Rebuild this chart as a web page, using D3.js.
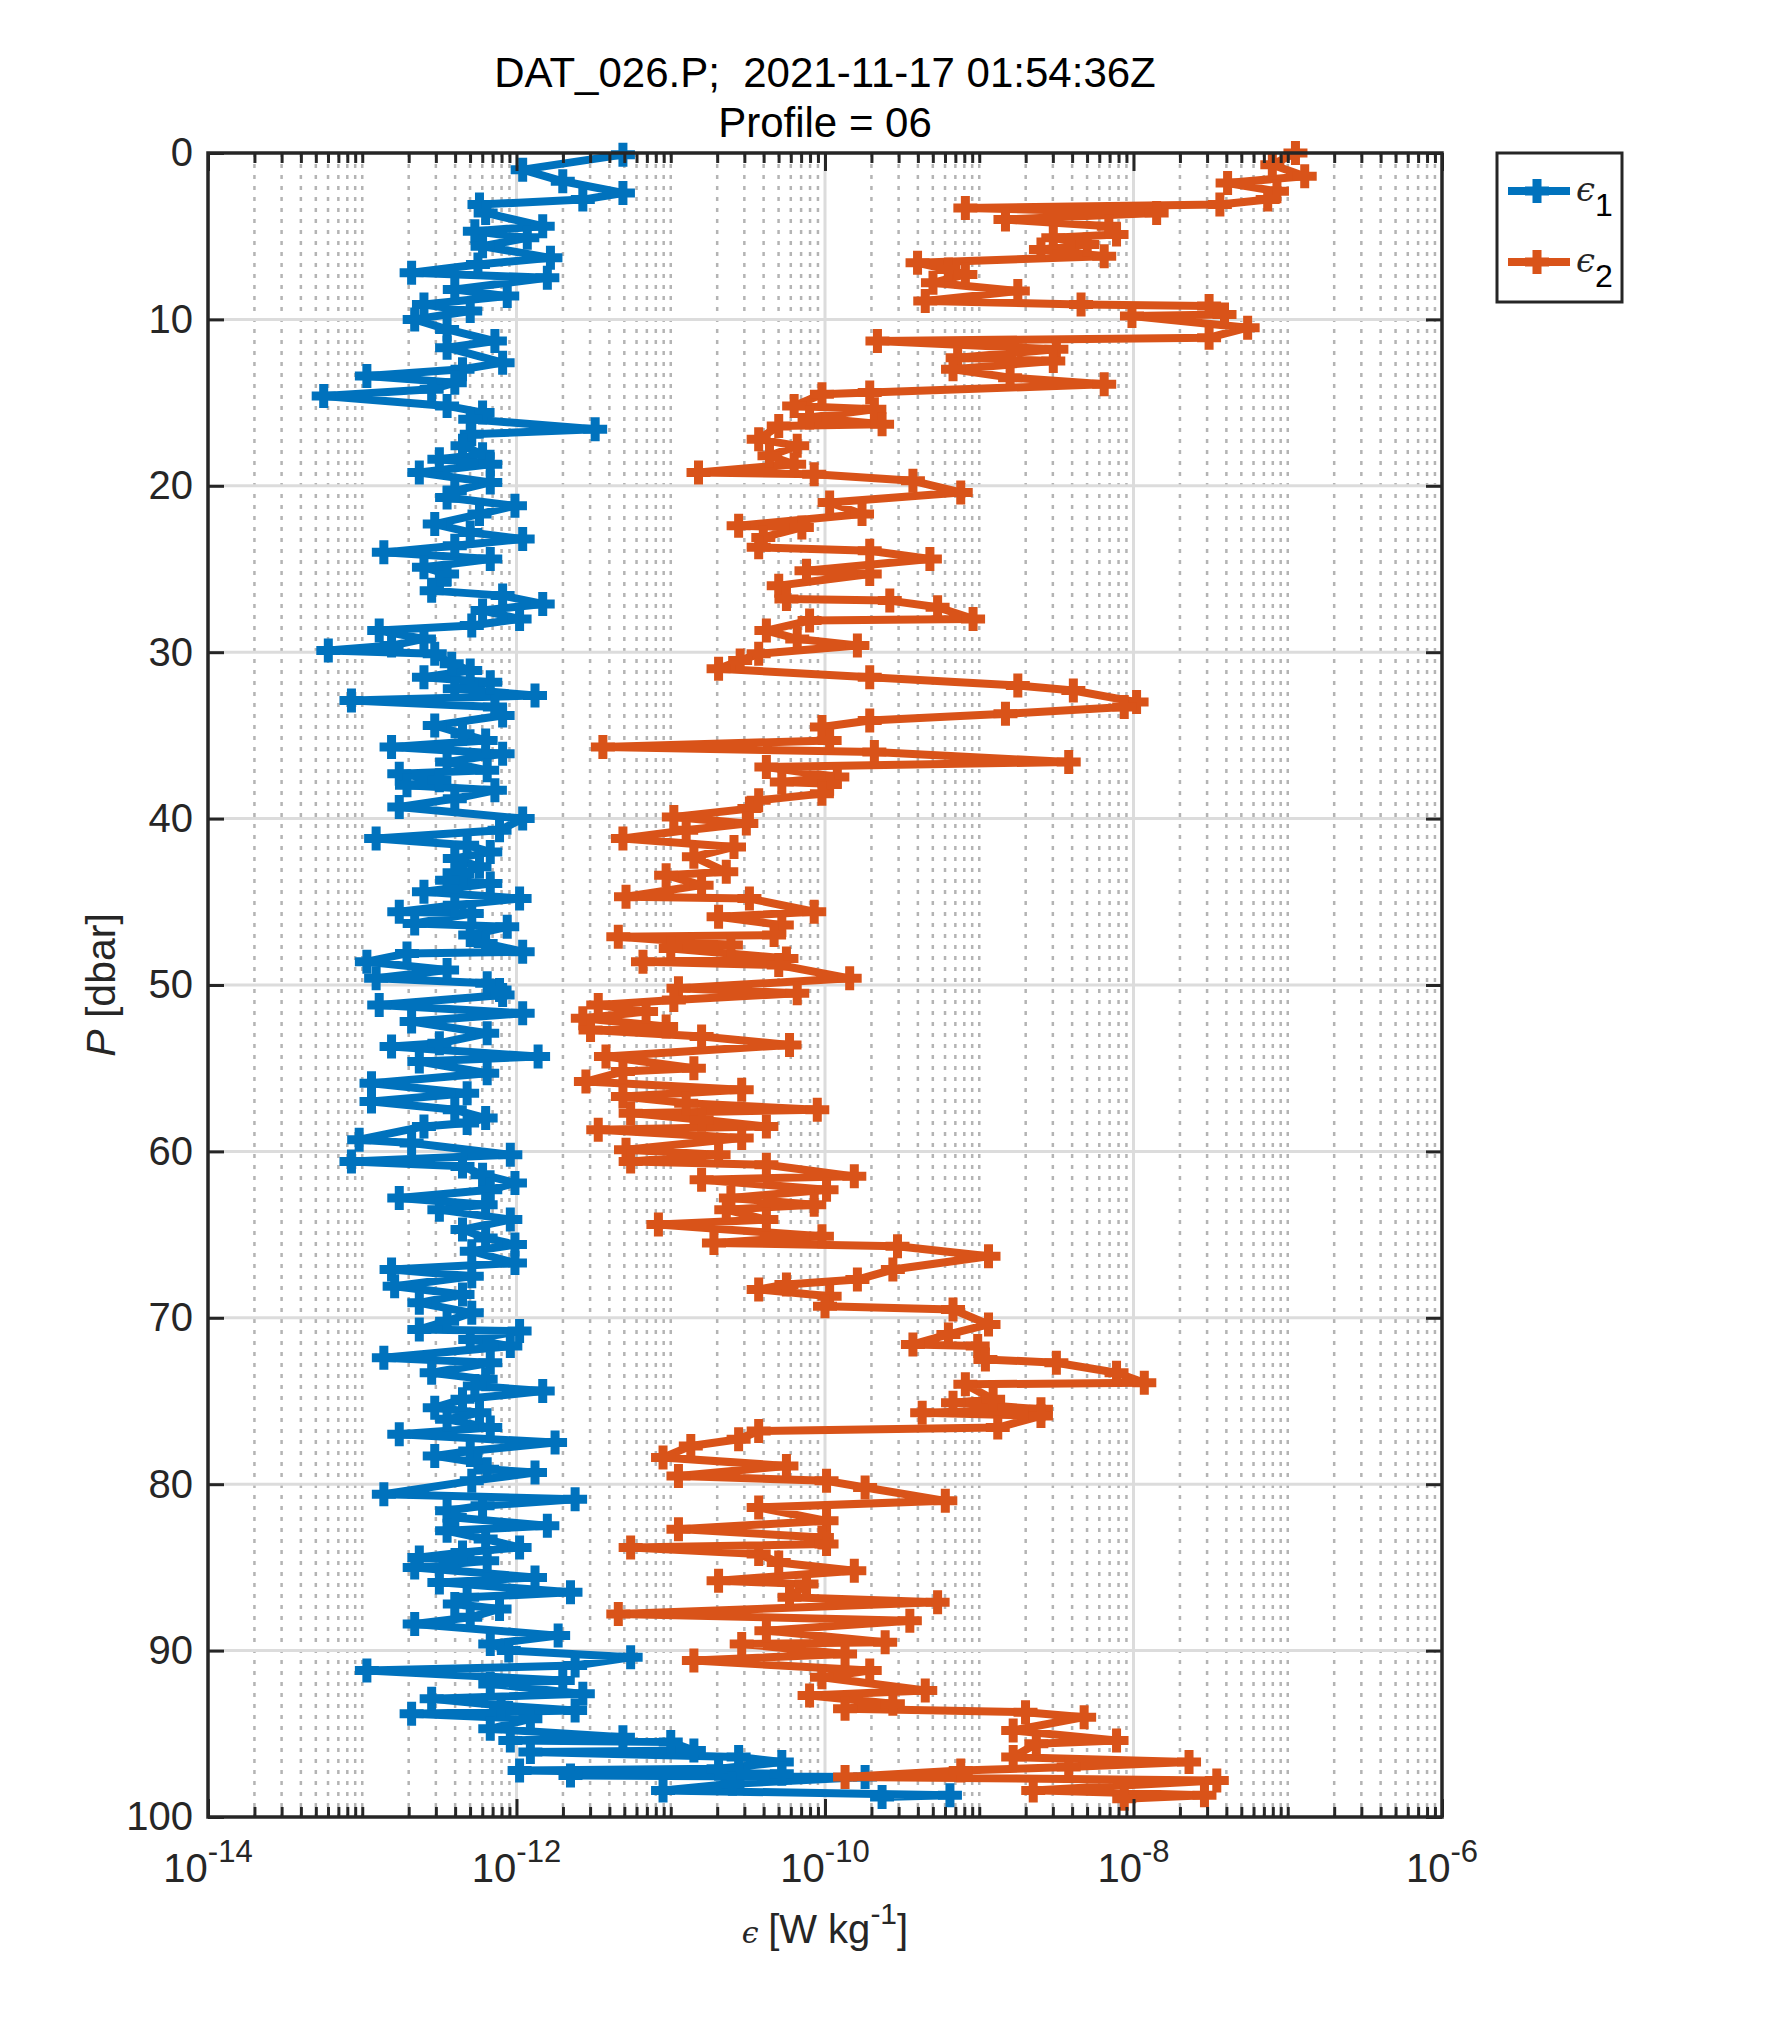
<!DOCTYPE html>
<html>
<head>
<meta charset="utf-8">
<script src="https://cdn.jsdelivr.net/npm/d3@7"></script>
<style>
  body { margin: 0; background: #fff; }
  text { font-family: "Liberation Sans", Arial, Helvetica, sans-serif; fill: #262626; }
</style>
</head>
<body>
<div id="chart"></div>
<script>
// Profile readings: [pressure (dbar), log10 of epsilon (W/kg)]
var eps1 = [
  [0.1,-11.31],[1.0,-11.96],[1.7,-11.70],[2.4,-11.31],[2.8,-11.57],[3.1,-12.24],[3.6,-12.20],[4.4,-11.83],
  [4.7,-12.27],[5.1,-11.93],[5.6,-12.22],[6.3,-11.78],[6.7,-12.25],[7.2,-12.68],[7.5,-11.80],[8.2,-12.40],
  [8.6,-12.06],[9.1,-12.60],[9.5,-12.30],[10.0,-12.66],[10.6,-12.45],[11.3,-12.14],[11.7,-12.45],[12.6,-12.09],
  [13.0,-12.35],[13.4,-12.97],[13.8,-12.40],[14.2,-12.55],[14.6,-13.25],[15.2,-12.45],[15.6,-12.22],[16.0,-12.30],
  [16.6,-11.49],[16.9,-12.29],[17.6,-12.35],[18.1,-12.22],[18.4,-12.50],[18.7,-12.17],[19.2,-12.63],[19.8,-12.17],
  [20.3,-12.40],[20.7,-12.45],[21.2,-12.01],[21.7,-12.24],[22.3,-12.53],[22.8,-12.30],[23.2,-11.96],[23.6,-12.40],
  [24.0,-12.86],[24.4,-12.17],[24.9,-12.60],[25.3,-12.45],[25.8,-12.50],[26.3,-12.55],[26.6,-12.09],[27.1,-11.83],
  [27.5,-12.22],[28.0,-11.98],[28.4,-12.29],[28.7,-12.89],[29.2,-12.60],[29.6,-12.81],[29.9,-13.22],[30.1,-12.53],
  [30.7,-12.42],[31.1,-12.30],[31.5,-12.60],[31.8,-12.17],[32.2,-12.40],[32.6,-11.88],[32.9,-13.07],[33.3,-12.14],
  [33.8,-12.09],[34.4,-12.53],[34.9,-12.35],[35.3,-12.20],[35.7,-12.81],[36.1,-12.09],[36.6,-12.45],[37.1,-12.19],
  [37.3,-12.76],[37.7,-12.50],[38.0,-12.71],[38.3,-12.14],[38.8,-12.40],[39.3,-12.76],[40.0,-11.96],[40.7,-12.11],
  [41.2,-12.91],[41.6,-12.32],[42.0,-12.17],[42.4,-12.40],[42.9,-12.24],[43.3,-12.35],[43.7,-12.45],[43.9,-12.17],
  [44.4,-12.60],[44.8,-11.98],[45.2,-12.40],[45.6,-12.76],[45.7,-12.29],[46.3,-12.66],[46.5,-12.06],[47.0,-12.30],
  [47.5,-12.20],[48.0,-11.96],[48.1,-12.71],[48.6,-12.97],[49.1,-12.45],[49.6,-12.91],[49.9,-12.19],[50.3,-12.11],
  [50.6,-12.09],[51.2,-12.89],[51.7,-11.96],[52.2,-12.68],[52.9,-12.19],[53.5,-12.50],[53.7,-12.81],[54.3,-11.86],
  [54.6,-12.63],[55.3,-12.19],[55.9,-12.94],[56.5,-12.32],[57.0,-12.94],[57.5,-12.40],[58.0,-12.20],[58.3,-12.32],
  [58.5,-12.60],[59.3,-13.02],[59.5,-12.68],[60.2,-12.04],[60.6,-13.07],[60.9,-12.35],[61.4,-12.22],[61.9,-12.01],
  [62.3,-12.17],[62.8,-12.76],[63.2,-12.20],[63.5,-12.50],[64.1,-12.04],[64.7,-12.35],[65.2,-12.20],[65.6,-12.01],
  [66.0,-12.29],[66.7,-12.01],[67.1,-12.81],[67.5,-12.29],[68.1,-12.79],[68.6,-12.35],[69.1,-12.63],[69.7,-12.29],
  [70.2,-12.45],[70.7,-12.63],[70.8,-11.98],[71.3,-12.30],[71.7,-12.04],[72.4,-12.86],[72.7,-12.17],[73.3,-12.55],
  [73.7,-12.20],[74.1,-12.27],[74.4,-11.83],[74.9,-12.35],[75.4,-12.53],[75.7,-12.24],[76.1,-12.45],[76.6,-12.17],
  [77.0,-12.76],[77.5,-11.75],[78.0,-12.30],[78.3,-12.53],[78.7,-12.25],[79.1,-12.19],[79.3,-11.88],[79.8,-12.29],
  [80.6,-12.86],[80.9,-11.62],[81.3,-12.22],[81.6,-12.45],[82.0,-12.40],[82.5,-11.80],[82.8,-12.45],[83.3,-12.20],
  [83.8,-11.98],[84.1,-12.35],[84.4,-12.63],[84.6,-12.19],[85.0,-12.66],[85.6,-11.88],[85.9,-12.50],[86.5,-11.65],
  [86.8,-12.32],[87.2,-12.40],[87.5,-12.11],[88.0,-12.30],[88.4,-12.66],[89.1,-11.73],[89.6,-12.17],[90.0,-12.05],
  [90.4,-11.26],[90.9,-11.62],[91.2,-12.97],[91.8,-11.70],[92.0,-12.17],[92.6,-11.57],[92.9,-12.55],[93.3,-12.10],
  [93.6,-11.62],[93.8,-12.68],[94.1,-11.91],[94.7,-12.17],[95.2,-11.31],[95.4,-12.04],[95.5,-11.00],[96.0,-10.85],
  [96.1,-11.91],[96.4,-10.56],[96.7,-10.28],[97.1,-10.69],[97.2,-11.98],[97.4,-10.28],[97.5,-11.65],[97.6,-9.74],
  [98.0,-10.60],[98.4,-11.05],[98.7,-9.19],[98.8,-9.63]
];

var eps2 = [
  [0.0,-6.95],[0.7,-7.10],[1.4,-6.89],[1.8,-7.39],[2.3,-7.07],[2.8,-7.13],[3.1,-7.44],[3.3,-9.09],
  [3.6,-7.85],[4.0,-8.83],[4.4,-8.16],[4.9,-8.11],[5.1,-8.52],[5.5,-8.30],[5.8,-8.60],[6.2,-8.19],
  [6.6,-9.40],[7.0,-9.20],[7.3,-9.09],[7.8,-9.30],[8.3,-8.75],[8.9,-9.35],[9.1,-8.34],[9.2,-7.51],
  [9.7,-7.41],[9.8,-8.01],[10.5,-7.26],[11.1,-7.51],[11.3,-9.66],[11.8,-8.50],[12.3,-9.14],[12.5,-8.52],
  [13.0,-9.17],[13.5,-8.80],[13.9,-8.19],[14.4,-9.71],[14.5,-10.02],[15.2,-10.20],[15.4,-9.68],[15.9,-10.10],
  [16.3,-9.63],[16.4,-10.30],[17.2,-10.43],[17.6,-10.18],[18.2,-10.36],[18.7,-10.20],[19.2,-10.82],[19.3,-10.07],
  [19.7,-9.43],[20.4,-9.12],[21.0,-9.97],[21.7,-9.76],[22.4,-10.56],[22.5,-10.15],[23.1,-10.40],[23.7,-10.43],
  [23.9,-9.71],[24.4,-9.32],[25.1,-10.12],[25.3,-9.71],[26.0,-10.30],[26.8,-10.25],[26.9,-9.58],[27.3,-9.27],
  [28.0,-9.04],[28.1,-10.10],[28.7,-10.38],[29.2,-10.18],[29.6,-9.79],[30.1,-10.43],[30.5,-10.55],[31.0,-10.69],
  [31.5,-9.71],[32.0,-8.75],[32.3,-8.39],[33.0,-7.98],[33.3,-8.06],[33.7,-8.83],[34.1,-9.71],[34.5,-10.02],
  [35.3,-9.97],[35.7,-11.44],[36.0,-9.68],[36.6,-8.42],[36.9,-10.38],[37.5,-9.92],[37.8,-10.28],[37.9,-9.97],
  [38.5,-10.02],[38.9,-10.43],[39.4,-10.49],[39.9,-10.98],[40.3,-10.51],[40.7,-10.90],[41.2,-11.31],[41.7,-10.59],
  [42.3,-10.85],[43.2,-10.64],[43.4,-11.03],[44.0,-10.80],[44.7,-11.29],[44.8,-10.49],[45.6,-10.07],[45.9,-10.69],
  [46.4,-10.28],[47.0,-10.33],[47.1,-11.34],[47.6,-10.61],[47.8,-11.00],[48.4,-10.25],[48.6,-11.18],[48.8,-10.30],
  [49.6,-9.84],[50.2,-10.95],[50.5,-10.18],[50.9,-10.98],[51.2,-11.47],[51.6,-11.16],[52.0,-11.57],[52.5,-11.03],
  [52.7,-11.52],[53.1,-10.80],[53.6,-10.23],[54.3,-11.42],[55.0,-10.85],[55.2,-11.31],[55.8,-11.55],[56.3,-10.54],
  [56.7,-11.31],[57.1,-10.90],[57.5,-10.05],[57.7,-11.26],[58.1,-10.80],[58.5,-10.38],[58.7,-11.47],[59.2,-10.54],
  [59.9,-11.29],[60.2,-10.69],[60.6,-11.26],[60.8,-10.38],[61.5,-9.81],[61.7,-10.80],[62.3,-9.99],[62.8,-10.61],
  [63.2,-10.07],[63.5,-10.64],[64.1,-10.38],[64.4,-11.08],[65.1,-10.02],[65.5,-10.72],[65.7,-9.53],[66.3,-8.94],
  [67.1,-9.56],[67.7,-9.79],[68.0,-10.25],[68.3,-10.43],[68.7,-9.97],[69.3,-10.00],[69.5,-9.17],[70.4,-8.94],
  [71.0,-9.20],[71.6,-9.43],[71.7,-9.01],[72.5,-8.96],[72.7,-8.50],[73.3,-8.11],[73.9,-7.93],[74.0,-9.09],
  [74.9,-8.91],[75.1,-9.17],[75.5,-8.60],[75.7,-9.37],[75.9,-8.60],[76.6,-8.88],[76.8,-10.43],[77.3,-10.56],
  [77.7,-10.87],[78.4,-11.05],[78.9,-10.25],[79.5,-10.95],[79.8,-9.99],[80.2,-9.74],[81.0,-9.22],[81.4,-10.43],
  [82.2,-9.99],[82.7,-10.95],[83.2,-10.02],[83.6,-9.99],[83.8,-11.26],[84.2,-10.43],[84.7,-10.30],[85.2,-9.81],
  [85.8,-10.69],[86.0,-10.12],[86.8,-10.23],[87.1,-9.27],[87.8,-11.34],[88.2,-9.45],[88.8,-10.38],[89.5,-9.61],
  [89.6,-10.54],[90.2,-9.87],[90.6,-10.85],[91.2,-9.71],[91.6,-10.02],[92.4,-9.35],[92.7,-10.10],[93.2,-9.56],
  [93.5,-9.87],[93.7,-8.70],[94.0,-8.32],[94.8,-8.78],[95.4,-8.11],[95.6,-8.63],[96.4,-8.78],[96.7,-7.64],
  [97.0,-8.42],[97.2,-9.12],[97.6,-9.87],[97.8,-7.46],[98.4,-8.65],[98.7,-7.54],[98.9,-8.06]
];

var seriesNames = ["1", "2"];
var seriesColors = ["#0072BD", "#D95319"];
var xTickExps = [-14, -12, -10, -8, -6];
var yTicks = [0, 10, 20, 30, 40, 50, 60, 70, 80, 90, 100];
var titleLines = ["DAT_026.P;  2021-11-17 01:54:36Z", "Profile = 06"];

// svg wrapper dimensions
var svgWidth = 1772;
var svgHeight = 2042;

var margin = { top: 153, right: 330, bottom: 225, left: 208 };
var width = svgWidth - margin.left - margin.right;
var height = svgHeight - margin.top - margin.bottom;

var svg = d3.select("#chart")
  .append("svg")
  .attr("width", svgWidth)
  .attr("height", svgHeight);

var chartGroup = svg.append("g")
  .attr("transform", `translate(${margin.left}, ${margin.top})`);

var xScale = d3.scaleLog()
  .domain([1e-14, 1e-6])
  .range([0, width]);

var yScale = d3.scaleLinear()
  .domain([0, 100])
  .range([0, height]);

// minor positions: 2..9 in every decade plus the odd decades
var minorVals = [];
for (var e = -14; e < -6; e++) {
  for (var m = 1; m <= 9; m++) {
    if (m === 1 && e % 2 === 0) continue;
    minorVals.push(m * Math.pow(10, e));
  }
}
var majorVals = xTickExps.map(e => Math.pow(10, e));

// grid
chartGroup.append("g").selectAll("line")
  .data(minorVals)
  .enter()
  .append("line")
  .attr("x1", d => xScale(d)).attr("x2", d => xScale(d))
  .attr("y1", 0).attr("y2", height)
  .attr("stroke", "#b4b4b4")
  .attr("stroke-width", 2.5)
  .attr("stroke-dasharray", "4,7");

chartGroup.append("g").selectAll("line")
  .data(majorVals.slice(1, -1))
  .enter()
  .append("line")
  .attr("x1", d => xScale(d)).attr("x2", d => xScale(d))
  .attr("y1", 0).attr("y2", height)
  .attr("stroke", "#dcdcdc")
  .attr("stroke-width", 3);

chartGroup.append("g").selectAll("line")
  .data(yTicks.slice(1, -1))
  .enter()
  .append("line")
  .attr("x1", 0).attr("x2", width)
  .attr("y1", d => yScale(d)).attr("y2", d => yScale(d))
  .attr("stroke", "#dcdcdc")
  .attr("stroke-width", 3);

// data lines and markers
var lineGen = d3.line()
  .x(d => xScale(Math.pow(10, d[1])))
  .y(d => yScale(d[0]));

var plusPath = "M-12,0H12M0,-12V12";

[eps1, eps2].forEach(function(data, i) {
  chartGroup.append("path")
    .datum(data)
    .attr("d", lineGen)
    .attr("fill", "none")
    .attr("stroke", seriesColors[i])
    .attr("stroke-width", 8)
    .attr("stroke-linejoin", "round");

  chartGroup.append("g").selectAll("path")
    .data(data)
    .enter()
    .append("path")
    .attr("transform", d => `translate(${xScale(Math.pow(10, d[1]))}, ${yScale(d[0])})`)
    .attr("d", plusPath)
    .attr("stroke", seriesColors[i])
    .attr("stroke-width", 9)
    .attr("fill", "none");
});

// axes (ticks inside, box on)
function styleAxis(g) {
  g.select(".domain").remove();
  g.selectAll(".tick line").attr("stroke", "#262626").attr("stroke-width", 3);
}

chartGroup.append("g")
  .attr("transform", `translate(0, ${height})`)
  .call(d3.axisBottom(xScale).tickValues(minorVals).tickSize(-10).tickFormat(""))
  .call(styleAxis);
chartGroup.append("g")
  .attr("transform", `translate(0, ${height})`)
  .call(d3.axisBottom(xScale).tickValues(majorVals).tickSize(-18).tickFormat(""))
  .call(styleAxis);
chartGroup.append("g")
  .call(d3.axisTop(xScale).tickValues(minorVals).tickSize(-10).tickFormat(""))
  .call(styleAxis);
chartGroup.append("g")
  .call(d3.axisTop(xScale).tickValues(majorVals).tickSize(-18).tickFormat(""))
  .call(styleAxis);

var leftAxis = chartGroup.append("g")
  .call(d3.axisLeft(yScale).tickValues(yTicks).tickSize(-16).tickPadding(15))
  .call(styleAxis);
leftAxis.selectAll("text")
  .attr("font-size", 40)
  .attr("fill", "#262626")
  .attr("font-family", "Liberation Sans, Arial, sans-serif");

chartGroup.append("g")
  .attr("transform", `translate(${width}, 0)`)
  .call(d3.axisRight(yScale).tickValues(yTicks).tickSize(-16).tickFormat(""))
  .call(styleAxis);

chartGroup.append("rect")
  .attr("x", 0).attr("y", 0)
  .attr("width", width).attr("height", height)
  .attr("fill", "none")
  .attr("stroke", "#262626")
  .attr("stroke-width", 3.5);

// x tick labels with exponent
var xLabels = chartGroup.append("g").selectAll("text")
  .data(xTickExps)
  .enter()
  .append("text")
  .attr("x", d => xScale(Math.pow(10, d)))
  .attr("y", height + 65)
  .attr("text-anchor", "middle")
  .attr("font-size", 40);
xLabels.append("tspan").text("10");
xLabels.append("tspan")
  .attr("dy", -20)
  .attr("font-size", 31)
  .text(d => d);

// axis labels
var xTitle = chartGroup.append("text")
  .attr("x", width / 2)
  .attr("y", height + 126)
  .attr("text-anchor", "middle")
  .attr("font-size", 40);
xTitle.append("tspan").attr("font-family", "DejaVu Serif, serif").attr("font-style", "italic").attr("font-size", 30).text("ϵ ");
xTitle.append("tspan").text("[W kg");
xTitle.append("tspan").attr("dy", -19).attr("font-size", 30).text("-1");
xTitle.append("tspan").attr("dy", 19).text("]");

var yTitle = chartGroup.append("text")
  .attr("transform", "rotate(-90)")
  .attr("x", -height / 2)
  .attr("y", -93)
  .attr("text-anchor", "middle")
  .attr("font-size", 41);
yTitle.append("tspan").attr("font-style", "italic").text("P");
yTitle.append("tspan").text(" [dbar]");

// title
svg.append("g").selectAll("text")
  .data(titleLines)
  .enter()
  .append("text")
  .attr("x", margin.left + width / 2)
  .attr("y", (d, i) => 87 + i * 50)
  .attr("text-anchor", "middle")
  .attr("font-size", 42)
  .style("white-space", "pre")
  .style("fill", "#000")
  .text(d => d);

// legend
var legend = svg.append("g")
  .attr("transform", "translate(1497, 153)");

legend.append("rect")
  .attr("width", 125)
  .attr("height", 149)
  .attr("fill", "#fff")
  .attr("stroke", "#262626")
  .attr("stroke-width", 3);

var legendItems = legend.selectAll(".item")
  .data(seriesNames)
  .enter()
  .append("g")
  .attr("transform", (d, i) => `translate(0, ${38 + i * 71})`);

legendItems.append("line")
  .attr("x1", 11).attr("x2", 73)
  .attr("stroke", (d, i) => seriesColors[i])
  .attr("stroke-width", 8);
legendItems.append("path")
  .attr("transform", "translate(40, 0)")
  .attr("d", plusPath)
  .attr("stroke", (d, i) => seriesColors[i])
  .attr("stroke-width", 9);

var legendText = legendItems.append("text")
  .attr("x", 79)
  .attr("y", 10)
  .attr("font-size", 34);
legendText.append("tspan").attr("font-family", "DejaVu Serif, serif").attr("font-style", "italic").text("ϵ");
legendText.append("tspan").attr("dy", 15).attr("font-size", 32).style("fill", "#000").text(d => d);
</script>
</body>
</html>
